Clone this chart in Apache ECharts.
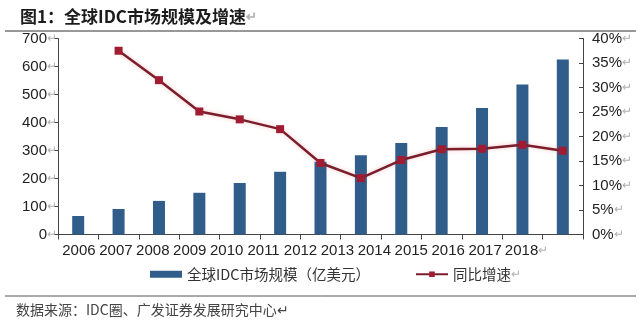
<!DOCTYPE html>
<html>
<head>
<meta charset="utf-8">
<script src="https://cdn.jsdelivr.net/npm/echarts@6/dist/echarts.min.js"></script>
<style>
html,body{margin:0;padding:0;background:#fff;}
#c{width:640px;height:331px;}
</style>
</head>
<body>
<div id="c"></div>
<script>
const categories = ['2006','2007','2008','2009','2010','2011','2012','2013','2014','2015','2016','2017','2018'];
const marketSize = [66, 91, 120, 149, 184, 224, 260, 283, 327, 384, 452, 536, 625];
const growthRate = [null, 37.5, 31.5, 25.1, 23.5, 21.5, 14.6, 11.5, 15.2, 17.4, 17.5, 18.3, 17.1];
const leftAxis = {min: 0, max: 700, interval: 100};
const rightAxis = {min: 0, max: 40, interval: 5};
const titleText = '图1：全球IDC市场规模及增速';
const barName = '全球IDC市场规模（亿美元）';
const lineName = '同比增速';
const sourceText = '数据来源：IDC圈、广发证券发展研究中心';

const FONT = '"Liberation Sans", "Noto Sans CJK SC", sans-serif';
const CJK = '"Noto Sans CJK SC", "Liberation Sans", sans-serif';
const arrowRich = {a: {color: '#b0b0b0', fontSize: 12, fontFamily: FONT}, p: {width: 9}};

const chart = echarts.init(document.getElementById('c'), null, {renderer: 'canvas'});
chart.setOption({
  animation: false,
  backgroundColor: '#fff',
  title: {
    text: titleText + '{a|↵}',
    left: 15, top: 3,
    textStyle: {fontSize: 17, fontWeight: 'bold', color: '#1c1c1c', fontFamily: CJK, rich: {a: {color: '#b0b0b0', fontSize: 13}}}
  },
  graphic: [
    {type: 'line', shape: {x1: 5, y1: 31, x2: 636, y2: 31}, style: {stroke: '#333', lineWidth: 1.2}},
    {type: 'line', shape: {x1: 5, y1: 296, x2: 636, y2: 296}, style: {stroke: '#555', lineWidth: 1}},
    {type: 'text', left: 16, top: 303, style: {text: sourceText + '↵', font: '14px "Noto Sans CJK SC", sans-serif', fill: '#444'}}
  ],
  legend: {
    left: 145, top: 262,
    itemGap: 45,
    itemWidth: 32, itemHeight: 7,
    textStyle: {fontSize: 14.5, color: '#333', fontFamily: CJK, rich: arrowRich},
    formatter: function (n) { return n === lineName ? n + '{a|↵}' : n; },
    data: [{name: barName, icon: 'rect'}, {name: lineName}]
  },
  grid: [
    {left: 58, right: 57, top: 38.5, bottom: 96.5},
    {left: 60.5, right: 99.5, top: 38.5, bottom: 96.5}
  ],
  xAxis: [
    {
      type: 'category', gridIndex: 0, data: categories, boundaryGap: true,
      axisLine: {lineStyle: {color: '#444', width: 1}},
      axisTick: {show: true, length: 5, lineStyle: {color: '#444'}},
      axisLabel: {show: false}
    },
    {
      type: 'category', gridIndex: 1, data: categories, boundaryGap: true,
      axisLine: {show: false}, axisTick: {show: false},
      axisLabel: {
        margin: 9, fontSize: 15, color: '#222', fontFamily: FONT, interval: 0, hideOverlap: false,
        formatter: function (v) { return v === categories[categories.length - 1] ? '{p|}' + v + '{a|↵}' : v; },
        rich: arrowRich
      }
    }
  ],
  yAxis: [
    {
      type: 'value', gridIndex: 0, position: 'left',
      min: leftAxis.min, max: leftAxis.max, interval: leftAxis.interval,
      splitLine: {show: false},
      axisLine: {show: true, lineStyle: {color: '#444', width: 1}},
      axisTick: {show: true, length: 4, lineStyle: {color: '#444'}},
      axisLabel: {margin: 1, fontSize: 15, color: '#222', fontFamily: FONT, formatter: '{value}{a|↵}', rich: arrowRich}
    },
    {
      type: 'value', gridIndex: 0, position: 'right',
      min: rightAxis.min, max: rightAxis.max, interval: rightAxis.interval,
      splitLine: {show: false},
      axisLine: {show: true, lineStyle: {color: '#444', width: 1}},
      axisTick: {show: true, inside: true, length: 4, lineStyle: {color: '#444'}},
      axisLabel: {margin: 9, fontSize: 15, color: '#222', fontFamily: FONT, formatter: '{value}%{a|↵}', rich: arrowRich}
    },
    {type: 'value', gridIndex: 1, show: false, min: 0, max: 1}
  ],
  series: [
    {
      name: barName, type: 'bar', xAxisIndex: 0, yAxisIndex: 0,
      data: marketSize, barWidth: 12,
      itemStyle: {color: '#315d8b'}
    },
    {
      name: lineName, type: 'line', xAxisIndex: 0, yAxisIndex: 1,
      data: growthRate, symbol: 'rect', symbolSize: 8, showSymbol: true,
      connectNulls: false,
      lineStyle: {color: '#7a1e2c', width: 2.5, shadowColor: 'rgba(230,80,80,0.35)', shadowBlur: 4},
      itemStyle: {color: '#a01c32'}
    }
  ]
});
</script>
</body>
</html>
